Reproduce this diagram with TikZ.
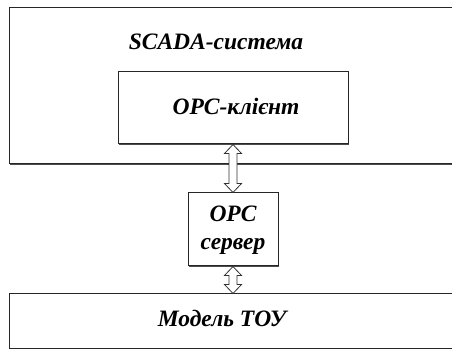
\documentclass[tikz,border=0pt]{standalone}
\usepackage{fontspec}
\setmainfont{Liberation Serif}
\usetikzlibrary{calc,shadows}
\tikzset{
  box/.style={draw=black!85, line width=1pt, fill=white, inner sep=0pt,
    drop shadow={shadow xshift=1.4pt, shadow yshift=-1.4pt, fill=black!70, opacity=1}},
  lbl/.style={font=\fontsize{23.5}{26}\selectfont\bfseries\itshape, inner sep=0pt, align=center},
  dblarrow/.style={draw=black!80, fill=white, line width=0.8pt, line join=miter}
}
\newcommand\hollowarrow[2]{%
  \draw[dblarrow] let \p1=(#1), \p2=(#2) in
    (\x1,\y1) -- (\x1+8.5pt,\y1-9pt) -- (\x1+4pt,\y1-9pt) -- (\x1+4pt,\y2+9pt)
    -- (\x1+8.5pt,\y2+9pt) -- (\x1,\y2) -- (\x1-8.5pt,\y2+9pt) -- (\x1-4pt,\y2+9pt)
    -- (\x1-4pt,\y1-9pt) -- (\x1-8.5pt,\y1-9pt) -- cycle;}
\begin{document}
\begin{tikzpicture}[x=1pt,y=-1pt]
\useasboundingbox (0,0) rectangle (452,352);
\clip (0,0) rectangle (452,352);
\node[box, minimum width=460pt, minimum height=156pt] (scada) at (239,86) {};
\node[lbl] (scadat) at (216,42) {SCADA-система};
\node[box, minimum width=230pt, minimum height=72pt] (client) at (233,108) {};
\node[lbl] (clientt) at (236,106) {OPC-клієнт};
\node[box, minimum width=90pt, minimum height=73pt] (server) at (233,229.5) {};
\node[lbl, font=\fontsize{23.5}{28}\selectfont\bfseries\itshape] (servert) at (233,230) {OPC\\сервер};
\node[box, minimum width=460pt, minimum height=54pt] (model) at (239,321) {};
\node[lbl] (modelt) at (222,318) {Модель ТОУ};
\hollowarrow{client.south}{server.north}
\hollowarrow{server.south}{model.north}
\end{tikzpicture}
\end{document}
